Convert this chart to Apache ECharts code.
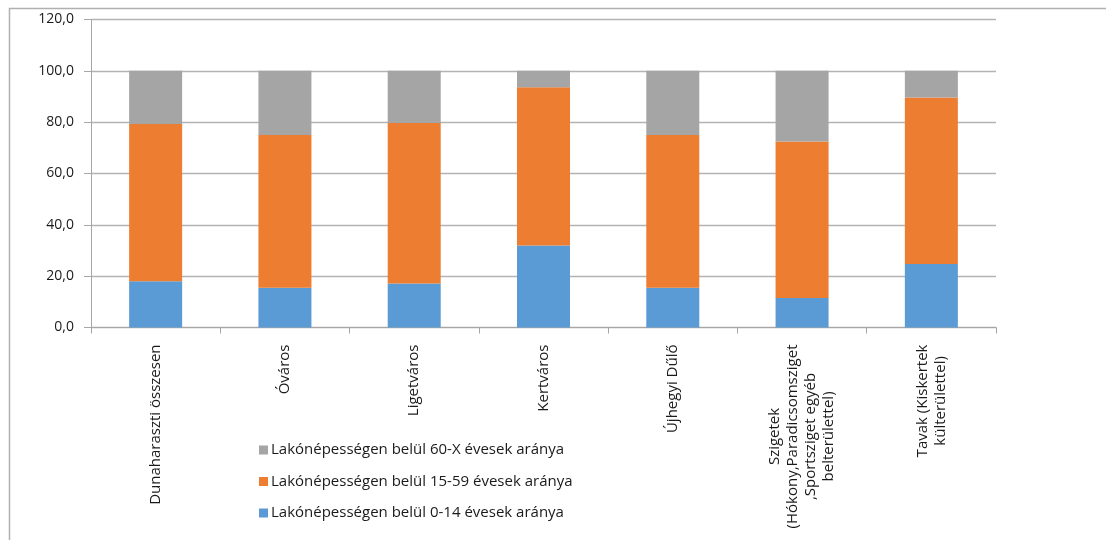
<!DOCTYPE html>
<html>
<head>
<meta charset="utf-8">
<script src="https://cdn.jsdelivr.net/npm/echarts@6/dist/echarts.min.js"></script>
<style>html,body{margin:0;padding:0;background:#fff}#c{width:1106px;height:540px}</style>
</head>
<body>
<div id="c"></div>
<script>
var categories = [
  'Dunaharaszti összesen',
  'Óváros',
  'Ligetváros',
  'Kertváros',
  'Újhegyi Dűlő',
  'Szigetek\n(Hókony,Paradicsomsziget\n,Sportsziget egyéb\nbelterülettel)',
  'Tavak (Kiskertek\nkülterülettel)'
];
var seriesNames = [
  'Lakónépességen belül 0-14 évesek aránya',
  'Lakónépességen belül 15-59 évesek aránya',
  'Lakónépességen belül 60-X évesek aránya'
];
var age0_14 = [18.0, 15.5, 17.1, 31.9, 15.5, 11.5, 24.7];
var age15_59 = [61.3, 59.5, 62.6, 61.7, 59.5, 61.0, 64.9];
var age60x = [20.7, 25.0, 20.3, 6.4, 25.0, 27.5, 10.4];
var yTicks = [0, 20, 40, 60, 80, 100, 120];

var FONT = 'Open Sans';
var chart = echarts.init(document.getElementById('c'), null, {renderer: 'canvas'});
var axisColor = '#a6a6a6';
var colors = ['#5b9bd5', '#ed7d31', '#a5a5a5'];
var values = [age0_14, age15_59, age60x];

chart.setOption({
  animation: false,
  textStyle: {fontFamily: FONT},
  graphic: [{
    type: 'polyline',
    silent: true,
    shape: {points: [[9.5, 540], [9.5, 8.5], [1106, 8.5]]},
    style: {stroke: '#b0b0b0', lineWidth: 1.5, fill: null}
  }],
  grid: {left: 91, right: 110, top: 19.5, bottom: 212.5, containLabel: false},
  legend: {
    orient: 'vertical',
    left: 254,
    top: 435,
    itemWidth: 9,
    itemHeight: 9,
    itemGap: 11.5,
    icon: 'rect',
    data: [seriesNames[2], seriesNames[1], seriesNames[0]],
    textStyle: {fontFamily: FONT, fontSize: 15, color: '#1a1a1a', padding: [0, 0, 0, -2], lineHeight: 20}
  },
  xAxis: {
    type: 'category',
    data: categories,
    axisLine: {lineStyle: {color: axisColor, width: 1}},
    axisTick: {show: true, length: 6, lineStyle: {color: axisColor}},
    axisLabel: {
      rotate: 90,
      interval: 0,
      margin: 17,
      color: '#1a1a1a',
      formatter: function (v) {
        return v.split('\n').map(function (l) { return '{c|' + l + '}'; }).join('\n');
      },
      rich: {c: {align: 'center', fontFamily: FONT, fontSize: 15, color: '#1a1a1a', lineHeight: 18}}
    }
  },
  yAxis: {
    type: 'value',
    min: yTicks[0],
    max: yTicks[yTicks.length - 1],
    interval: 20,
    axisLine: {show: true, lineStyle: {color: axisColor}},
    axisTick: {show: true, length: 7, lineStyle: {color: axisColor}},
    splitLine: {lineStyle: {color: '#b3b3b3', width: 1.3}},
    axisLabel: {
      margin: 17,
      color: '#1a1a1a',
      fontFamily: FONT,
      fontSize: 14,
      formatter: function (v) { return v.toFixed(1).replace('.', ','); }
    }
  },
  series: values.map(function (d, i) {
    return {
      name: seriesNames[i],
      type: 'bar',
      stack: 'total',
      barWidth: '41%',
      data: d,
      itemStyle: {color: colors[i]}
    };
  })
});
</script>
</body>
</html>
